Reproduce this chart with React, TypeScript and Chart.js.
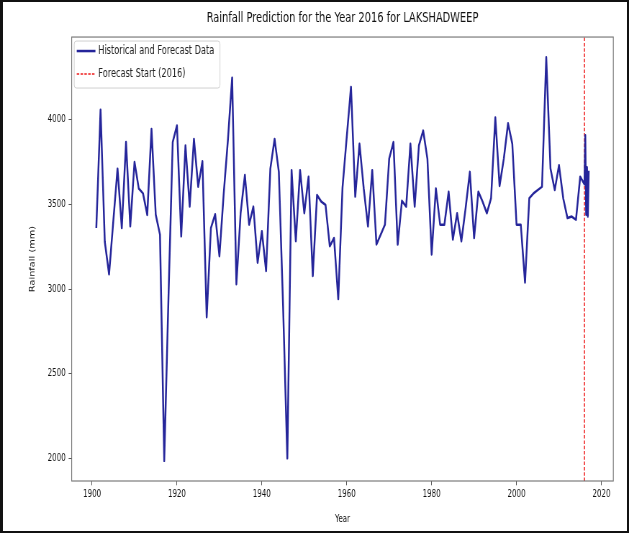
import React, { useEffect, useRef } from 'react';
import { Chart, registerables } from 'chart.js';

Chart.register(...registerables);

// Annual rainfall for Lakshadweep (mm), one value per year starting 1901
const FIRST_YEAR = 1901;
const rainfallMm = [
  3361, 4060, 3280, 3088, 3400, 3712, 3361, 3869, 3371, 3752, // 1901-1910
  3595, 3566, 3439, 3947, 3440, 3322, 1985, 2950, 3869, 3967, // 1911-1920
  3312, 3849, 3488, 3888, 3605, 3756, 2834, 3361, 3443, 3195, // 1921-1930
  3560, 3880, 4250, 3029, 3450, 3674, 3381, 3488, 3156, 3342, // 1931-1940
  3107, 3712, 3888, 3693, 2900, 2000, 3703, 3283, 3703, 3449, // 1941-1950
  3664, 3078, 3556, 3517, 3498, 3254, 3302, 2941, 3600, 3900, // 1951-1960
  4195, 3547, 3859, 3595, 3371, 3703, 3264, 3322, 3381, 3771, // 1961-1970
  3869, 3264, 3522, 3488, 3859, 3488, 3849, 3937, 3771, 3205, // 1971-1980
  3595, 3381, 3381, 3576, 3293, 3449, 3283, 3478, 3693, 3302, // 1981-1990
  3576, 3517, 3449, 3537, 4015, 3610, 3771, 3980, 3859, 3381, // 1991-2000
  3381, 3039, 3537, 3566, 3586, 3605, 4370, 3712, 3586, 3732, // 2001-2010
  3537, 3420, 3429, 3410, 3664,                               // 2011-2015
];
const historyYears = rainfallMm.map((_, i) => FIRST_YEAR + i);

// Forecast values appended after the historical record
const forecastYears = [2016, 2016.2, 2016.4, 2016.6, 2016.8, 2017];
const forecastMm = [3620, 3910, 3440, 3720, 3430, 3700];

const FORECAST_START = 2016;

const xTickValues = [1900, 1920, 1940, 1960, 1980, 2000, 2020];
const yTickValues = [2000, 2500, 3000, 3500, 4000];

const TITLE = 'Rainfall Prediction for the Year 2016 for LAKSHADWEEP';
const SERIES_LABEL = 'Historical and Forecast Data';
const START_LABEL = 'Forecast Start (2016)';

const X_MIN = 1895.2;
const X_MAX = 2022.8;
const Y_MIN = 1866;
const Y_MAX = 4490;

// The figure is drawn wide and squeezed horizontally to its final width
const OUT_W = 629;
const OUT_H = 533;
const DRAW_W = 874;
const SQUEEZE = OUT_W / DRAW_W;

const FONT = "'DejaVu Sans', sans-serif";
const TICK_SIZE = 9.8;
const LEGEND_SIZE = 11.4;
const LINE_COLOR = '#25259a';
const START_COLOR = '#ee1c1c';

const framePlugin = {
  id: 'axesFrame',
  afterDatasetsDraw(chart: any) {
    const { ctx, chartArea: ca } = chart;
    ctx.save();
    ctx.strokeStyle = '#707070';
    ctx.lineWidth = 1.1;
    ctx.strokeRect(ca.left, ca.top, ca.right - ca.left, ca.bottom - ca.top);
    ctx.restore();
  },
};

const legendPlugin = {
  id: 'insetLegend',
  afterDatasetsDraw(chart: any) {
    const { ctx, chartArea: ca } = chart;
    const items = chart.data.datasets.map((ds: any) => ({
      text: ds.label as string,
      color: ds.borderColor as string,
      width: ds.borderWidth as number,
      dash: (ds.borderDash || []) as number[],
    }));
    ctx.save();
    ctx.font = `${LEGEND_SIZE}px ${FONT}`;
    const textX = ca.left + 37;
    const maxW = Math.max(...items.map((it: any) => ctx.measureText(it.text).width));
    const left = ca.left + 3.5;
    const top = ca.top + 4;
    const right = textX + maxW + 8;
    const bottom = ca.top + 51;
    const r = 3;
    ctx.beginPath();
    ctx.moveTo(left + r, top);
    ctx.lineTo(right - r, top);
    ctx.quadraticCurveTo(right, top, right, top + r);
    ctx.lineTo(right, bottom - r);
    ctx.quadraticCurveTo(right, bottom, right - r, bottom);
    ctx.lineTo(left + r, bottom);
    ctx.quadraticCurveTo(left, bottom, left, bottom - r);
    ctx.lineTo(left, top + r);
    ctx.quadraticCurveTo(left, top, left + r, top);
    ctx.closePath();
    ctx.fillStyle = 'rgba(255,255,255,0.8)';
    ctx.fill();
    ctx.strokeStyle = '#d0d0d0';
    ctx.lineWidth = 1;
    ctx.stroke();

    items.forEach((it: any, i: number) => {
      const y = ca.top + 14 + i * 23;
      ctx.beginPath();
      ctx.setLineDash(it.dash);
      ctx.strokeStyle = it.color;
      ctx.lineWidth = it.width;
      ctx.moveTo(ca.left + 7, y);
      ctx.lineTo(ca.left + 33, y);
      ctx.stroke();
      ctx.setLineDash([]);
      ctx.fillStyle = '#222';
      ctx.textBaseline = 'middle';
      ctx.textAlign = 'left';
      ctx.fillText(it.text, textX, y);
    });
    ctx.restore();
  },
};

export default function App() {
  const canvasRef = useRef<HTMLCanvasElement | null>(null);

  useEffect(() => {
    const canvas = canvasRef.current;
    if (!canvas) return;

    const seriesPoints = [
      ...historyYears.map((x, i) => ({ x, y: rainfallMm[i] })),
      ...forecastYears.map((x, i) => ({ x, y: forecastMm[i] })),
    ];

    const tickFont = { family: FONT, size: TICK_SIZE };

    const chart = new Chart(canvas, {
      type: 'line',
      data: {
        datasets: [
          {
            label: SERIES_LABEL,
            data: seriesPoints,
            borderColor: LINE_COLOR,
            borderWidth: 2.5,
            pointRadius: 0,
            tension: 0,
            borderJoinStyle: 'round',
            fill: false,
          },
          {
            label: START_LABEL,
            data: [
              { x: FORECAST_START, y: Y_MIN },
              { x: FORECAST_START, y: Y_MAX },
            ],
            borderColor: START_COLOR,
            borderWidth: 1.5,
            borderDash: [3.5, 1.8],
            pointRadius: 0,
            fill: false,
          },
        ],
      },
      options: {
        responsive: false,
        animation: false,
        devicePixelRatio: 1,
        events: [],
        layout: { padding: { left: 0, top: 0, right: 21.8, bottom: 0 } },
        plugins: {
          legend: { display: false },
          tooltip: { enabled: false },
          title: {
            display: true,
            text: TITLE,
            fullSize: false,
            color: '#111',
            font: { family: FONT, size: 13.7, weight: 'normal' },
            padding: { top: 10.3, bottom: 10.3 },
          },
        },
        scales: {
          x: {
            type: 'linear',
            position: 'bottom',
            min: X_MIN,
            max: X_MAX,
            afterBuildTicks: (scale: any) => {
              scale.ticks = xTickValues.map((value) => ({ value }));
            },
            afterFit: (scale: any) => {
              scale.height = 52;
            },
            ticks: {
              color: '#111',
              font: tickFont,
              padding: 3.5,
              maxRotation: 0,
              autoSkip: false,
              callback: (v: any) => String(v),
            },
            grid: {
              display: true,
              drawOnChartArea: false,
              drawTicks: true,
              tickLength: 4.3,
              tickColor: '#555',
              tickWidth: 1,
            },
            border: { display: false },
            title: {
              display: true,
              text: 'Year',
              color: '#111',
              font: { family: FONT, size: TICK_SIZE },
              padding: { top: 0, bottom: 8 },
            },
          },
          y: {
            type: 'linear',
            min: Y_MIN,
            max: Y_MAX,
            afterBuildTicks: (scale: any) => {
              scale.ticks = yTickValues.map((value) => ({ value }));
            },
            afterFit: (scale: any) => {
              scale.width = 99.6;
            },
            ticks: {
              color: '#111',
              font: tickFont,
              padding: 4.1,
              autoSkip: false,
              callback: (v: any) => String(v),
            },
            grid: {
              display: true,
              drawOnChartArea: false,
              drawTicks: true,
              tickLength: 4.3,
              tickColor: '#555',
              tickWidth: 1,
            },
            border: { display: false },
            title: {
              display: true,
              text: 'Rainfall (mm)',
              color: '#111',
              font: { family: FONT, size: TICK_SIZE },
              padding: { top: 40, bottom: 0 },
            },
          },
        },
      },
      plugins: [framePlugin, legendPlugin],
    } as any);

    return () => {
      chart.destroy();
    };
  }, []);

  return (
    <div
      style={{
        position: 'absolute',
        left: 0,
        top: 0,
        width: OUT_W,
        height: OUT_H,
        overflow: 'hidden',
        background: '#fff',
      }}
    >
      <div
        style={{
          width: DRAW_W,
          height: OUT_H,
          transform: `scaleX(${SQUEEZE})`,
          transformOrigin: '0 0',
        }}
      >
        <canvas
          ref={canvasRef}
          width={DRAW_W}
          height={OUT_H}
          style={{ display: 'block', width: DRAW_W, height: OUT_H }}
        />
      </div>
      <div
        style={{
          position: 'absolute',
          left: 0,
          top: 0,
          width: OUT_W,
          height: OUT_H,
          boxSizing: 'border-box',
          borderStyle: 'solid',
          borderColor: '#111',
          borderWidth: '2px 2px 2px 3px',
          pointerEvents: 'none',
        }}
      />
    </div>
  );
}
